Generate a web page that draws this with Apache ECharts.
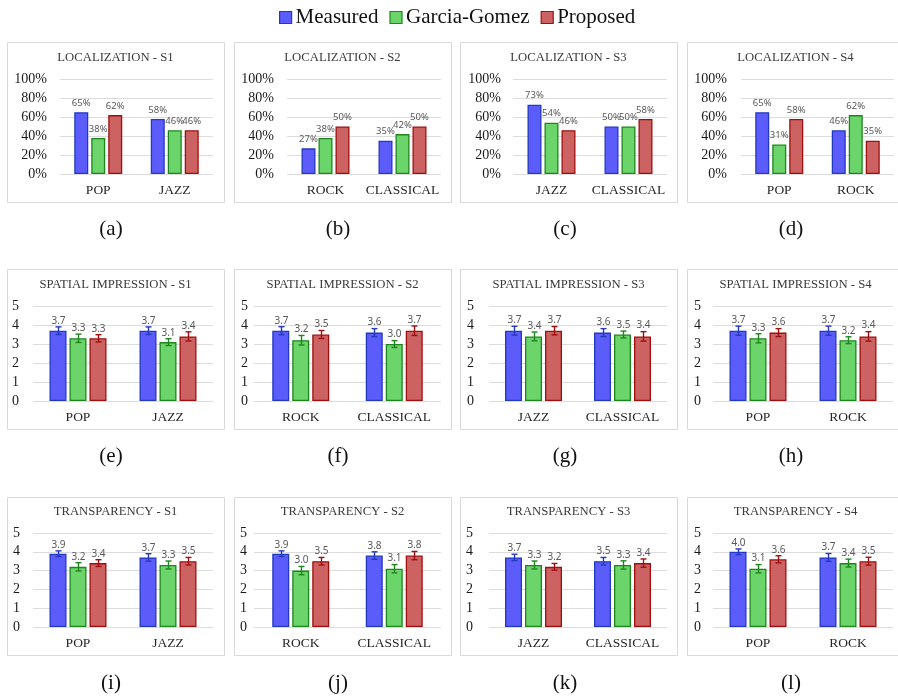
<!DOCTYPE html>
<html>
<head>
<meta charset="utf-8">
<script src="https://cdn.jsdelivr.net/npm/echarts@6/dist/echarts.min.js"></script>
<style>
  html, body { margin: 0; padding: 0; background: #fff; }
  #chart { width: 898px; height: 697px; }
</style>
</head>
<body>
<div id="chart"></div>
<script>
// ---- Data ----
const methods = ['Measured', 'Garcia-Gomez', 'Proposed'];
const subjects = ['S1', 'S2', 'S3', 'S4'];
const genres = [['POP', 'JAZZ'], ['ROCK', 'CLASSICAL'], ['JAZZ', 'CLASSICAL'], ['POP', 'ROCK']];
const metrics = ['LOCALIZATION', 'SPATIAL IMPRESSION', 'TRANSPARENCY'];
const captions = ['(a)', '(b)', '(c)', '(d)', '(e)', '(f)', '(g)', '(h)', '(i)', '(j)', '(k)', '(l)'];

// Localization (% correct), per subject: [genre 1, genre 2]
const locMeasured = [[65, 58], [27, 35], [73, 50], [65, 46]];
const locGarcia   = [[38, 46], [38, 42], [54, 50], [31, 62]];
const locProposed = [[62, 46], [50, 50], [46, 58], [58, 35]];

// Spatial impression (mean score) and error half-widths
const spMeasured = [[3.7, 3.7], [3.7, 3.6], [3.7, 3.6], [3.7, 3.7]];
const spGarcia   = [[3.3, 3.1], [3.2, 3.0], [3.4, 3.5], [3.3, 3.2]];
const spProposed = [[3.3, 3.4], [3.5, 3.7], [3.7, 3.4], [3.6, 3.4]];
const spErrMeasured = [[0.20, 0.20], [0.21, 0.21], [0.23, 0.21], [0.24, 0.24]];
const spErrGarcia   = [[0.22, 0.18], [0.25, 0.18], [0.23, 0.18], [0.24, 0.18]];
const spErrProposed = [[0.19, 0.24], [0.21, 0.25], [0.22, 0.25], [0.21, 0.25]];

// Transparency (mean score) and error half-widths
const trMeasured = [[3.9, 3.7], [3.9, 3.8], [3.7, 3.5], [4.0, 3.7]];
const trGarcia   = [[3.2, 3.3], [3.0, 3.1], [3.3, 3.3], [3.1, 3.4]];
const trProposed = [[3.4, 3.5], [3.5, 3.8], [3.2, 3.4], [3.6, 3.5]];
const trErrMeasured = [[0.15, 0.20], [0.15, 0.20], [0.17, 0.20], [0.15, 0.21]];
const trErrGarcia   = [[0.22, 0.21], [0.22, 0.22], [0.21, 0.22], [0.22, 0.21]];
const trErrProposed = [[0.18, 0.20], [0.20, 0.22], [0.18, 0.22], [0.19, 0.21]];

const locTicks = [0, 20, 40, 60, 80, 100];
const scoreTicks = [0, 1, 2, 3, 4, 5];

// ---- Styling / layout ----
const fills   = ['#5c5cfa', '#6bd46b', '#cd6262'];
const borders = ['#2339c0', '#1d861d', '#a00f0f'];
const serif = 'Liberation Serif';

const panelX = [7, 234, 460, 687];
const panelW = 217;
const boxTop = [42, 269, 497];
const boxH = [160, 160, 158];
const titleY = [57.5, 284.5, 511.5];
const captionY = [229.5, 456.5, 683];
const captionX = [111, 338, 565, 791];
const gridTop = [79, 306, 533];
const gridH = [95, 95, 94];
const gridLeft = [[60, 287, 513, 741], [33, 254, 489, 713], [33, 254, 489, 713]];
const gridRight = [[213, 441, 667, 894], [213, 441, 667, 893], [213, 441, 667, 893]];
const labelRight = [[47, 274, 501, 727], [19, 248, 474, 701], [20, 247, 473, 701]];
const barW = [14, 17, 17];
const barGapPx = 3;

const rowValues = [
  [locMeasured, locGarcia, locProposed],
  [spMeasured, spGarcia, spProposed],
  [trMeasured, trGarcia, trProposed]
];
const rowErrors = [
  null,
  [spErrMeasured, spErrGarcia, spErrProposed],
  [trErrMeasured, trErrGarcia, trErrProposed]
];

const grids = [], xAxes = [], yAxes = [], series = [], graphics = [];
const errSeries = [];

for (let r = 0; r < 3; r++) {
  for (let c = 0; c < 4; c++) {
    const idx = r * 4 + c;
    grids.push({
      left: gridLeft[r][c],
      top: gridTop[r],
      width: gridRight[r][c] - gridLeft[r][c],
      height: gridH[r]
    });
    xAxes.push({
      type: 'category',
      gridIndex: idx,
      data: genres[c],
      axisLine: { show: false },
      axisTick: { show: false },
      axisLabel: { interval: 0, fontFamily: serif, fontSize: 13.5, color: '#262626', margin: 9 }
    });
    const ticks = r === 0 ? locTicks : scoreTicks;
    yAxes.push({
      type: 'value',
      gridIndex: idx,
      min: ticks[0],
      max: ticks[ticks.length - 1],
      interval: ticks[1] - ticks[0],
      axisLine: { show: false },
      axisTick: { show: false },
      splitLine: { lineStyle: { color: '#dcdcdc', width: 1 } },
      axisLabel: {
        fontFamily: serif,
        fontSize: 14,
        color: '#1a1a1a',
        margin: gridLeft[r][c] - labelRight[r][c],
        formatter: r === 0 ? '{value}%' : '{value}'
      }
    });

    for (let m = 0; m < 3; m++) {
      const vals = rowValues[r][m][c];
      series.push({
        type: 'bar',
        name: methods[m],
        xAxisIndex: idx,
        yAxisIndex: idx,
        data: vals,
        barWidth: barW[r],
        barGap: (barGapPx / barW[r] * 100).toFixed(1) + '%',
        itemStyle: { color: fills[m], borderColor: borders[m], borderWidth: 1.3 },
        label: r === 0 ? {
          show: true,
          position: 'top',
          distance: 4,
          formatter: '{c}%',
          fontFamily: 'Noto Sans',
          fontSize: 9.5,
          color: '#595959'
        } : { show: false },
        emphasis: { disabled: true },
        animation: false
      });

      if (r > 0) {
        const errs = rowErrors[r][m][c];
        const offset = (m - 1) * (barW[r] + barGapPx);
        const col = borders[m];
        errSeries.push({
          type: 'custom',
          name: methods[m],
          xAxisIndex: idx,
          yAxisIndex: idx,
          data: vals.map((v, i) => [i, v, errs[i]]),
          z: 5,
          animation: false,
          renderItem: function (params, api) {
            const i = api.value(0), v = api.value(1), e = api.value(2);
            const top = api.coord([i, v + e]);
            const bot = api.coord([i, v - e]);
            const x = Math.round(top[0] + offset) + 0.5;
            const cap = 3;
            const st = { stroke: col, lineWidth: 1.4 };
            return {
              type: 'group',
              children: [
                { type: 'line', shape: { x1: x, y1: top[1], x2: x, y2: bot[1] }, style: st },
                { type: 'line', shape: { x1: x - cap, y1: top[1], x2: x + cap, y2: top[1] }, style: st },
                { type: 'line', shape: { x1: x - cap, y1: bot[1], x2: x + cap, y2: bot[1] }, style: st },
                {
                  type: 'text',
                  style: {
                    x: x, y: top[1] - 1,
                    text: v.toFixed(1),
                    align: 'center', verticalAlign: 'bottom',
                    fontFamily: 'Noto Sans', fontSize: 10, fill: '#595959'
                  }
                }
              ]
            };
          }
        });
      }
    }

    // panel frame, title and caption
    graphics.push({
      type: 'rect',
      shape: { x: panelX[c] + 0.5, y: boxTop[r] + 0.5, width: panelW, height: boxH[r] },
      style: { fill: 'none', stroke: '#d9d9d9', lineWidth: 1 },
      silent: true
    });
    graphics.push({
      type: 'text',
      x: panelX[c] + panelW / 2,
      y: titleY[r],
      style: {
        text: metrics[r] + ' - ' + subjects[c],
        align: 'center', verticalAlign: 'middle',
        fontFamily: serif, fontSize: 12.7, fill: '#3a3a3a'
      },
      silent: true
    });
    graphics.push({
      type: 'text',
      x: captionX[c],
      y: captionY[r],
      style: {
        text: captions[idx],
        align: 'center', verticalAlign: 'middle',
        fontFamily: serif, fontSize: 21, fill: '#111'
      },
      silent: true
    });
  }
}

const chart = echarts.init(document.getElementById('chart'), null, { renderer: 'canvas' });
chart.setOption({
  backgroundColor: '#ffffff',
  animation: false,
  legend: {
    left: 274,
    top: 2,
    itemWidth: 12,
    itemHeight: 12,
    itemGap: 11,
    icon: 'rect',
    data: methods.map((name, m) => ({
      name: name,
      itemStyle: { color: fills[m], borderColor: borders[m], borderWidth: 1.2 }
    })),
    textStyle: { fontFamily: serif, fontSize: 21, color: '#111', padding: [0, 0, 0, -1] }
  },
  grid: grids,
  xAxis: xAxes,
  yAxis: yAxes,
  series: series.concat(errSeries),
  graphic: graphics
});
</script>
</body>
</html>
